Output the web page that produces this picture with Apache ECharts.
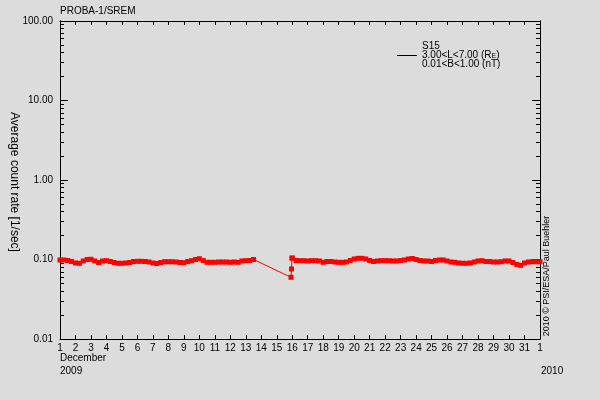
<!DOCTYPE html>
<html>
<head>
<meta charset="utf-8">
<script src="https://cdn.jsdelivr.net/npm/echarts@6/dist/echarts.min.js"></script>
<style>
html,body{margin:0;padding:0;background:#dcdcdc;}
#c{width:600px;height:400px;}
</style>
</head>
<body>
<div id="c"></div>
<script>
// ---- data ----
const seriesName = 'S15';
const seg1StartDay = 1;      // Dec 1 2009
const sampleStep = 0.25;     // days between samples
const seg1Values = [
  0.0986,0.0986,0.0971,0.0944,0.0904,0.0896,0.0958,0.1000,0.1006,0.0958,
  0.0917,0.0958,0.0966,0.0944,0.0917,0.0896,0.0896,0.0904,0.0917,0.0944,
  0.0949,0.0949,0.0944,0.0930,0.0904,0.0891,0.0917,0.0938,0.0938,0.0938,
  0.0930,0.0917,0.0912,0.0944,0.0966,0.1000,0.1023,0.0971,0.0922,0.0922,
  0.0922,0.0930,0.0930,0.0930,0.0922,0.0930,0.0922,0.0958,0.0966,0.0971,
  0.1000
];
const gapDays = [15.92, 15.95, 15.98];
const gapValues = [0.0597, 0.0760, 0.1040];
const seg2StartDay = 16;
const seg2Values = [
  0.1044,0.0971,0.0966,0.0966,0.0958,0.0966,0.0966,0.0958,0.0922,0.0944,
  0.0944,0.0930,0.0922,0.0922,0.0930,0.0971,0.1015,0.1035,0.1035,0.1015,
  0.0971,0.0944,0.0958,0.0966,0.0966,0.0966,0.0958,0.0958,0.0971,0.0986,
  0.1015,0.1029,0.1000,0.0971,0.0958,0.0958,0.0944,0.0971,0.0986,0.0986,
  0.0958,0.0930,0.0922,0.0904,0.0896,0.0896,0.0904,0.0930,0.0958,0.0966,
  0.0944,0.0944,0.0930,0.0930,0.0938,0.0958,0.0958,0.0917,0.0865,0.0845,
  0.0904,0.0930,0.0938,0.0938,0.0938
];
const xTickLabels = ['1','2','3','4','5','6','7','8','9','10','11','12','13','14','15','16',
  '17','18','19','20','21','22','23','24','25','26','27','28','29','30','31','1'];
const yMajorTicks = [0.01, 0.1, 1, 10, 100];
const yMinorTicks = [0.02,0.03,0.04,0.05,0.06,0.07,0.08,0.09,
  0.2,0.3,0.4,0.5,0.6,0.7,0.8,0.9, 2,3,4,5,6,7,8,9, 20,30,40,50,60,70,80,90];

// ---- build points ----
const points = [];
seg1Values.forEach((v, i) => points.push([seg1StartDay + i * sampleStep, v]));
gapDays.forEach((d, i) => points.push([d, gapValues[i]]));
seg2Values.forEach((v, i) => points.push([seg2StartDay + i * sampleStep, v]));

const FONT = 'Liberation Sans';
const BLACK = '#000';

function yAxisDef(pos, ticks, len, labels) {
  return {
    type: 'log', logBase: 10, min: 0.01, max: 100, position: pos,
    axisLine: { show: true, onZero: false, lineStyle: { color: BLACK, width: 1 } },
    axisTick: { show: true, inside: true, length: len, customValues: ticks, lineStyle: { color: BLACK } },
    axisLabel: labels ? {
      show: true, customValues: yMajorTicks, color: BLACK, fontFamily: FONT, fontSize: 10, margin: 7,
      formatter: v => Number(v).toFixed(2)
    } : { show: false },
    splitLine: { show: false },
    minorTick: { show: false }
  };
}

const chart = echarts.init(document.getElementById('c'), null, { renderer: 'canvas' });
chart.setOption({
  animation: false,
  backgroundColor: '#dcdcdc',
  grid: { left: 60, right: 60, top: 21, bottom: 61, containLabel: false, outerBoundsMode: 'none' },
  xAxis: [
    {
      type: 'value', min: 1, max: 32, interval: 1, position: 'bottom',
      axisLine: { onZero: false, lineStyle: { color: BLACK } },
      axisTick: { inside: true, length: 4, lineStyle: { color: BLACK } },
      axisLabel: { color: BLACK, fontFamily: FONT, fontSize: 10, margin: 4,
        formatter: v => xTickLabels[Math.round(v) - 1] },
      splitLine: { show: false }
    },
    {
      type: 'value', min: 1, max: 32, interval: 1, position: 'top',
      axisLine: { onZero: false, lineStyle: { color: BLACK } },
      axisTick: { inside: true, length: 4, lineStyle: { color: BLACK } },
      axisLabel: { show: false },
      splitLine: { show: false }
    }
  ],
  yAxis: [
    yAxisDef('left', yMajorTicks, 8, true),
    yAxisDef('left', yMinorTicks, 4, false),
    yAxisDef('right', yMajorTicks, 8, false),
    yAxisDef('right', yMinorTicks, 4, false)
  ],
  legend: {
    left: 397, top: 41.5, padding: 0,
    itemWidth: 20, itemHeight: 1,
    data: [{ name: seriesName, icon: 'rect',
      itemStyle: { color: BLACK, opacity: 1 }, lineStyle: { color: BLACK, opacity: 1 } }],
    formatter: () => 'S15\n3.00<L<7.00 (R{sub|E})\n0.01<B<1.00 (nT)',
    textStyle: { color: BLACK, fontFamily: FONT, fontSize: 10, lineHeight: 9,
      rich: { sub: { fontSize: 7, fontFamily: FONT, color: BLACK, verticalAlign: 'bottom', lineHeight: 9 } } },
    selectedMode: false
  },
  graphic: [
    { type: 'text', left: 60, top: 6, style: { text: 'PROBA-1/SREM', fill: BLACK, font: '10px ' + FONT } },
    { type: 'text', x: 14, y: 182, rotation: -Math.PI / 2,
      style: { text: 'Average count rate [1/sec]', fill: BLACK, font: '12px ' + FONT, align: 'center', verticalAlign: 'middle' } },
    { type: 'text', left: 60, top: 353, style: { text: 'December', fill: BLACK, font: '10px ' + FONT } },
    { type: 'text', left: 60, top: 366, style: { text: '2009', fill: BLACK, font: '10px ' + FONT } },
    { type: 'text', left: 541, top: 366, style: { text: '2010', fill: BLACK, font: '10px ' + FONT } },
    { type: 'text', x: 547, y: 276, rotation: Math.PI / 2,
      style: { text: '2010 © PSI/ESA/Paul Buehler', fill: BLACK, font: '9px ' + FONT, align: 'center', verticalAlign: 'middle' } }
  ],
  series: [{
    name: seriesName, type: 'line', xAxisIndex: 0, yAxisIndex: 0,
    data: points,
    symbol: 'rect', symbolSize: 5, showSymbol: true, showAllSymbol: true,
    itemStyle: { color: '#ff0000' },
    lineStyle: { color: '#ff0000', width: 1 },
    emphasis: { disabled: true }
  }]
});
</script>
</body>
</html>
